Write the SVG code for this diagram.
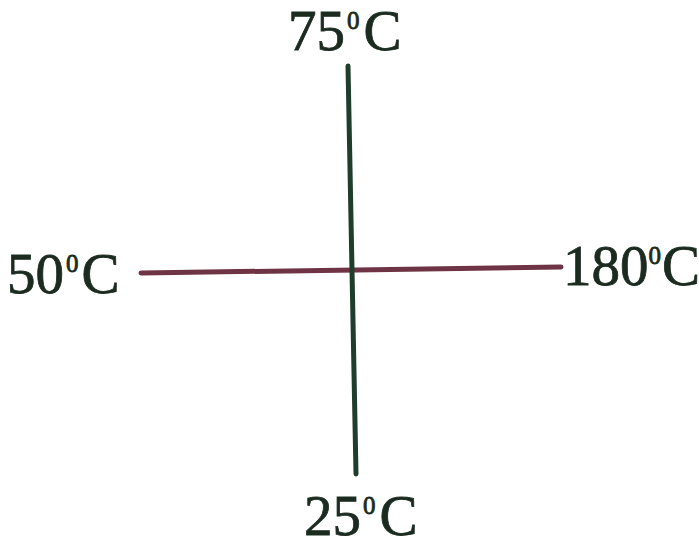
<svg xmlns="http://www.w3.org/2000/svg" width="699" height="547" viewBox="0 0 699 547">
<style>
text{font-family:"Liberation Serif","Times New Roman",serif;font-size:57px;fill:#1b2b20;stroke:#1b2b20;stroke-width:0.8}
.sup{font-size:25px}
.v{stroke:#1f3d2c;stroke-width:5;fill:none;stroke-linecap:round}
.h{stroke:#6e3344;stroke-width:5;fill:none;stroke-linecap:round}
</style>
<rect width="699" height="547" fill="#fff"/>
<g id="connectors">
<path class="h" d="M141 273 L561 267"/>
<path class="v" d="M348 66 L356 474"/>
</g>
<g id="top"><text x="288" y="50">75<tspan class="sup" dx="2" dy="-21">0</tspan><tspan dx="4" dy="21">C</tspan></text></g>
<g id="left"><text x="7" y="293">50<tspan class="sup" dx="2" dy="-21">0</tspan><tspan dx="3" dy="21">C</tspan></text></g>
<g id="right"><text x="563" y="285" font-size="55">180<tspan class="sup" dy="-21">0</tspan><tspan dx="1" dy="21">C</tspan></text></g>
<g id="bottom"><text x="304" y="535">25<tspan class="sup" dx="2" dy="-21">0</tspan><tspan dx="4" dy="21">C</tspan></text></g>
</svg>
